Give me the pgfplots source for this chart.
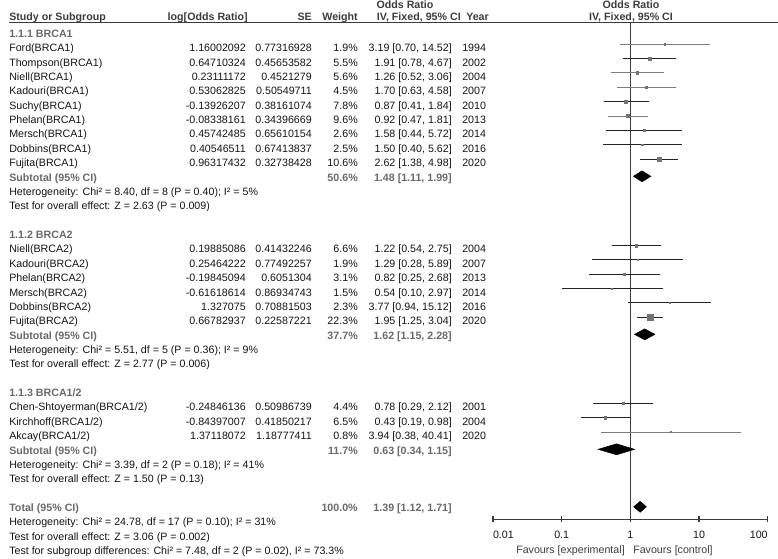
\documentclass[border=0pt]{standalone}
\usepackage{pgfplots}
\pgfplotsset{compat=1.18}
\usepackage{fontspec}
\setmainfont{Liberation Sans}

\definecolor{hdr}{RGB}{60,60,60}
\definecolor{sub}{RGB}{105,105,105}
\definecolor{txt}{RGB}{20,20,20}
\definecolor{ciA}{RGB}{35,35,35}
\definecolor{ciB}{RGB}{125,125,125}
\definecolor{sq}{RGB}{115,115,115}

% one study row: row, name, log OR, SE, weight, OR [CI], year
\newcommand{\study}[7]{%
  \node[anchor=base west] at (9,#1) {#2};
  \node[anchor=base east] at (246,#1) {#3};
  \node[anchor=base east] at (312,#1) {#4};
  \node[anchor=base east] at (358,#1) {#5\%};
  \node[anchor=base east] at (452,#1) {#6};
  \node[anchor=base west] at (462,#1) {#7};}
\newcommand{\subtot}[4]{%
  \node[anchor=base west,text=sub,font=\bfseries] at (9,#1) {#2};
  \node[anchor=base east,text=sub,font=\bfseries] at (358,#1) {#3\%};
  \node[anchor=base east,text=sub,font=\bfseries] at (452,#1) {#4};}
\newcommand{\note}[2]{\node[anchor=base west] at (9,#1) {#2};}

\begin{document}
\fontsize{8}{9.6}\selectfont
\begin{tikzpicture}[x=0.75pt,y=-0.75pt]
\useasboundingbox (0,0) rectangle (778,559);

% axis: 0.01 at x=493px, 100 at x=767.7px, baseline row 34.06 at y=519.3px
\begin{axis}[
  at={(369.75pt,-389.475pt)}, anchor=south west,
  scale only axis, width=206.0pt, height=372.9pt,
  xmode=log, xmin=0.01, xmax=100,
  ymin=-34.06, ymax=0.54,
  axis y line=none, axis x line*=bottom,
  x axis line style={hdr, line width=0.9pt, -},
  xtick={0.01,0.1,1,10,100},
  xticklabels={\makebox[0pt][l]{0.01},0.1,1,10,\makebox[0pt][r]{100}},
  xminorticks=false,
  tick align=center, major tick length=4.5pt,
  x tick style={hdr, line width=0.9pt},
  xticklabel style={font=\fontsize{8}{9.6}\selectfont, text=txt, inner sep=0pt, anchor=base, yshift=-12.1pt},
  clip=false,
]
% line of no effect
\addplot[hdr, line width=0.8pt] coordinates {(1,0.54) (1,-34.06)};

% confidence intervals, 1.1.1 BRCA1
\addplot[ciB, line width=0.8pt] coordinates {(0.70,-1) (14.52,-1)};
\addplot[ciA, line width=0.8pt] coordinates {(0.78,-2) (4.67,-2)};
\addplot[ciB, line width=0.8pt] coordinates {(0.52,-3) (3.06,-3)};
\addplot[ciB, line width=0.8pt] coordinates {(0.63,-4) (4.58,-4)};
\addplot[ciA, line width=0.8pt] coordinates {(0.41,-5) (1.84,-5)};
\addplot[ciB, line width=0.8pt] coordinates {(0.47,-6) (1.81,-6)};
\addplot[ciA, line width=0.8pt] coordinates {(0.44,-7) (5.72,-7)};
\addplot[ciA, line width=0.8pt] coordinates {(0.40,-8) (5.62,-8)};
\addplot[ciA, line width=0.8pt] coordinates {(1.38,-9) (4.98,-9)};
% 1.1.2 BRCA2
\addplot[ciA, line width=0.8pt] coordinates {(0.54,-15) (2.75,-15)};
\addplot[ciA, line width=0.8pt] coordinates {(0.28,-16) (5.89,-16)};
\addplot[ciA, line width=0.8pt] coordinates {(0.25,-17) (2.68,-17)};
\addplot[ciA, line width=0.8pt] coordinates {(0.10,-18) (2.97,-18)};
\addplot[ciA, line width=0.8pt] coordinates {(0.94,-19) (15.12,-19)};
\addplot[ciA, line width=0.8pt] coordinates {(1.25,-20) (3.04,-20)};
% 1.1.3 BRCA1/2
\addplot[ciA, line width=0.8pt] coordinates {(0.29,-26) (2.12,-26)};
\addplot[ciA, line width=0.8pt] coordinates {(0.19,-27) (0.98,-27)};
\addplot[ciB, line width=0.8pt] coordinates {(0.38,-28) (40.41,-28)};

% study squares, side ~ sqrt(weight)
\addplot[
  scatter, only marks, mark=square*,
  scatter/use mapped color={draw=sq, fill=sq},
  visualization depends on={0.4*sqrt(\thisrow{w}) \as \ms},
  scatter/@pre marker code/.append style={/tikz/mark size=\ms pt},
] table {
or    y    w
3.19  -1   1.9
1.91  -2   5.5
1.26  -3   5.6
1.70  -4   4.5
0.87  -5   7.8
0.92  -6   9.6
1.58  -7   2.6
1.50  -8   2.5
2.62  -9   10.6
1.22  -15  6.6
1.29  -16  1.9
0.82  -17  3.1
0.54  -18  1.5
3.77  -19  2.3
1.95  -20  22.3
0.78  -26  4.4
0.43  -27  6.5
3.94  -28  0.8
};

% pooled estimates
\addplot[fill=black, draw=black] coordinates {(1.11,-10.19) (1.48,-9.81) (1.99,-10.19) (1.48,-10.57)} --cycle;
\addplot[fill=black, draw=black] coordinates {(1.15,-21.19) (1.62,-20.81) (2.28,-21.19) (1.62,-21.57)} --cycle;
\addplot[fill=black, draw=black] coordinates {(0.34,-29.19) (0.63,-28.81) (1.15,-29.19) (0.63,-29.57)} --cycle;
\addplot[fill=black, draw=black] coordinates {(1.12,-33.19) (1.39,-32.81) (1.71,-33.19) (1.39,-33.57)} --cycle;
\end{axis}

% header
\begin{scope}[every node/.style={inner sep=0pt, text=hdr, font=\bfseries}]
\node[anchor=base] at (405,8.3) {Odds Ratio};
\node[anchor=base] at (631,8.3) {Odds Ratio};
\node[anchor=base west] at (9,20.5) {Study or Subgroup};
\node[anchor=base east] at (248,20.5) {log[Odds Ratio]};
\node[anchor=base east] at (312,20.5) {SE};
\node[anchor=base east] at (358,20.5) {Weight};
\node[anchor=base east] at (461,20.5) {IV, Fixed, 95\% CI};
\node[anchor=base west] at (466,20.5) {Year};
\node[anchor=base] at (631,20.5) {IV, Fixed, 95\% CI};
\end{scope}
\draw[hdr, line width=1.1pt] (9,22.5) -- (778,22.5);

\node[inner sep=0pt, anchor=base east, text=hdr] at (625,553) {Favours [experimental]};
\node[inner sep=0pt, anchor=base west, text=hdr] at (633,553) {Favours [control]};

% table rows (y = row number, on the text baseline)
\begin{scope}[x=0.75pt, y=-10.7775pt, yshift=-28.01pt, every node/.style={inner sep=0pt, text=txt}]
\node[anchor=base west, text=sub, font=\bfseries] at (9,0) {1.1.1 BRCA1};
\study{1}{Ford(BRCA1)}{1.16002092}{0.77316928}{1.9}{3.19 [0.70, 14.52]}{1994}
\study{2}{Thompson(BRCA1)}{0.64710324}{0.45653582}{5.5}{1.91 [0.78, 4.67]}{2002}
\study{3}{Niell(BRCA1)}{0.23111172}{0.4521279}{5.6}{1.26 [0.52, 3.06]}{2004}
\study{4}{Kadouri(BRCA1)}{0.53062825}{0.50549711}{4.5}{1.70 [0.63, 4.58]}{2007}
\study{5}{Suchy(BRCA1)}{-0.13926207}{0.38161074}{7.8}{0.87 [0.41, 1.84]}{2010}
\study{6}{Phelan(BRCA1)}{-0.08338161}{0.34396669}{9.6}{0.92 [0.47, 1.81]}{2013}
\study{7}{Mersch(BRCA1)}{0.45742485}{0.65610154}{2.6}{1.58 [0.44, 5.72]}{2014}
\study{8}{Dobbins(BRCA1)}{0.40546511}{0.67413837}{2.5}{1.50 [0.40, 5.62]}{2016}
\study{9}{Fujita(BRCA1)}{0.96317432}{0.32738428}{10.6}{2.62 [1.38, 4.98]}{2020}
\subtot{10}{Subtotal (95\% CI)}{50.6}{1.48 [1.11, 1.99]}
\note{11}{Heterogeneity: Chi² = 8.40, df = 8 (P = 0.40); I² = 5\%}
\note{12}{Test for overall effect: Z = 2.63 (P = 0.009)}

\node[anchor=base west, text=sub, font=\bfseries] at (9,14) {1.1.2 BRCA2};
\study{15}{Niell(BRCA2)}{0.19885086}{0.41432246}{6.6}{1.22 [0.54, 2.75]}{2004}
\study{16}{Kadouri(BRCA2)}{0.25464222}{0.77492257}{1.9}{1.29 [0.28, 5.89]}{2007}
\study{17}{Phelan(BRCA2)}{-0.19845094}{0.6051304}{3.1}{0.82 [0.25, 2.68]}{2013}
\study{18}{Mersch(BRCA2)}{-0.61618614}{0.86934743}{1.5}{0.54 [0.10, 2.97]}{2014}
\study{19}{Dobbins(BRCA2)}{1.327075}{0.70881503}{2.3}{3.77 [0.94, 15.12]}{2016}
\study{20}{Fujita(BRCA2)}{0.66782937}{0.22587221}{22.3}{1.95 [1.25, 3.04]}{2020}
\subtot{21}{Subtotal (95\% CI)}{37.7}{1.62 [1.15, 2.28]}
\note{22}{Heterogeneity: Chi² = 5.51, df = 5 (P = 0.36); I² = 9\%}
\note{23}{Test for overall effect: Z = 2.77 (P = 0.006)}

\node[anchor=base west, text=sub, font=\bfseries] at (9,25) {1.1.3 BRCA1/2};
\study{26}{Chen-Shtoyerman(BRCA1/2)}{-0.24846136}{0.50986739}{4.4}{0.78 [0.29, 2.12]}{2001}
\study{27}{Kirchhoff(BRCA1/2)}{-0.84397007}{0.41850217}{6.5}{0.43 [0.19, 0.98]}{2004}
\study{28}{Akcay(BRCA1/2)}{1.37118072}{1.18777411}{0.8}{3.94 [0.38, 40.41]}{2020}
\subtot{29}{Subtotal (95\% CI)}{11.7}{0.63 [0.34, 1.15]}
\note{30}{Heterogeneity: Chi² = 3.39, df = 2 (P = 0.18); I² = 41\%}
\note{31}{Test for overall effect: Z = 1.50 (P = 0.13)}

\subtot{33}{Total (95\% CI)}{100.0}{1.39 [1.12, 1.71]}
\note{34}{Heterogeneity: Chi² = 24.78, df = 17 (P = 0.10); I² = 31\%}
\note{35}{Test for overall effect: Z = 3.06 (P = 0.002)}
\note{36}{Test for subgroup differences: Chi² = 7.48, df = 2 (P = 0.02), I² = 73.3\%}
\end{scope}
\end{tikzpicture}
\end{document}
